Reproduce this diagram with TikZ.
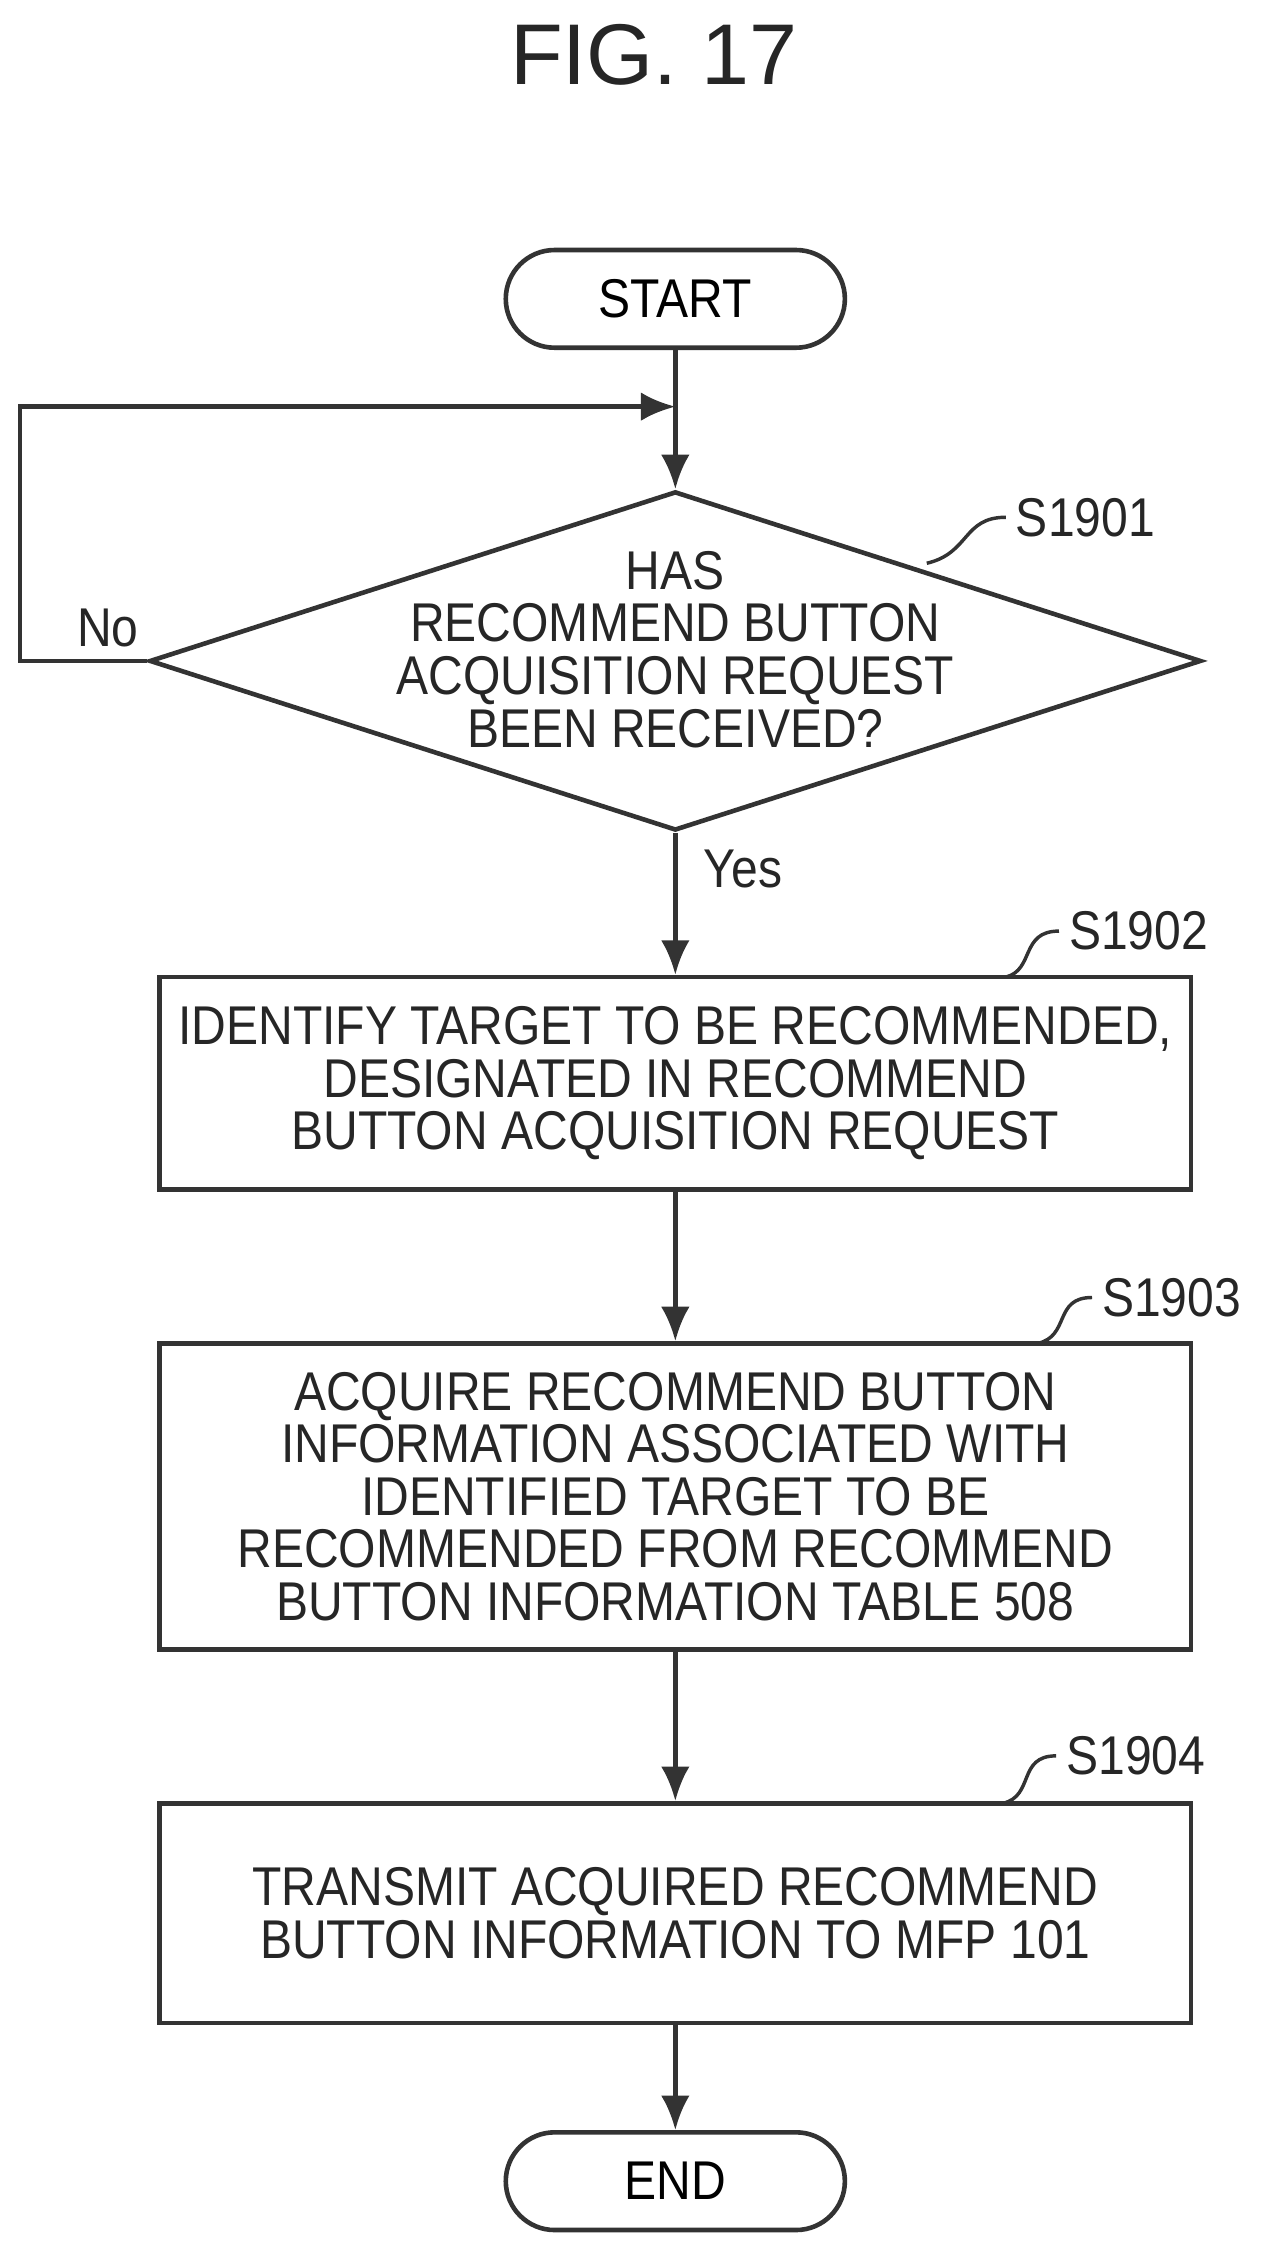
\documentclass[tikz,border=0pt]{standalone}
\usepackage{fontspec}
\setmainfont{Liberation Sans}[FakeStretch=0.88]
\newfontfamily\titlefont{Liberation Sans}
\usetikzlibrary{shapes.geometric,arrows.meta}
\begin{document}
\begin{tikzpicture}[x=0.5pt,y=-0.5pt,
  line/.style={draw=black!80,line width=1.6pt},
  arr/.style={line,-{Latex[length=12pt,width=10pt]}},
  txt/.style={font=\fontsize{19}{18.3}\selectfont,align=center,text=black!85},
  box/.style={line,rectangle,minimum width=359pt,inner sep=0pt},
  term/.style={line,rectangle,rounded corners=17pt,minimum width=118pt,minimum height=34pt,font=\fontsize{19}{18}\selectfont},
  lab/.style={font=\fontsize{19}{18}\selectfont,text=black!85}]
\useasboundingbox (0,0) rectangle (880,1568);
\node[font=\titlefont\fontsize{30}{32}\selectfont,text=black!85] (title) at (455,38) {FIG. 17};
\node[term] (start) at (470,208) {START};
\node[line,diamond,aspect=3.1,minimum width=366pt,minimum height=118pt,inner sep=0pt] (d) at (470,460) {};
\node[txt] (dt) at (470,452) {HAS\\RECOMMEND BUTTON\\ACQUISITION REQUEST\\BEEN RECEIVED?};
\node[box,minimum height=74pt] (b1) at (470,754) {};
\node[txt] at (b1) {IDENTIFY TARGET TO BE RECOMMENDED,\\DESIGNATED IN RECOMMEND\\BUTTON ACQUISITION REQUEST};
\node[box,minimum height=106.5pt] (b2) at (470,1041.5) {};
\node[txt] at (b2) {ACQUIRE RECOMMEND BUTTON\\INFORMATION ASSOCIATED WITH\\IDENTIFIED TARGET TO BE\\RECOMMENDED FROM RECOMMEND\\BUTTON INFORMATION TABLE 508};
\node[box,minimum height=76.5pt] (b3) at (470,1331.5) {};
\node[txt] at (b3) {TRANSMIT ACQUIRED RECOMMEND\\BUTTON INFORMATION TO MFP 101};
\node[term] (end) at (470,1518) {END};
\coordinate (j) at (470,283);
\coordinate (c1) at (14,460);
\coordinate (c2) at (14,283);
\draw[line] (start.south) -- (j);
\draw[arr] (j) -- (d.north);
\draw[arr] (d.west) -- (c1) -- (c2) -- (j);
\draw[arr] (d.south) -- (b1.north);
\draw[arr] (b1.south) -- (b2.north);
\draw[arr] (b2.south) -- (b3.north);
\draw[arr] (b3.south) -- (end.north);
\node[lab] (no) at (75,437) {No};
\node[lab] (yes) at (517,605) {Yes};
\node[lab,anchor=west] (l1) at (700,360) {S1901};
\node[lab,anchor=west] (l2) at (737,648) {S1902};
\node[lab,anchor=west] (l3) at (760,903) {S1903};
\node[lab,anchor=west] (l4) at (735,1222) {S1904};
\draw[line,line width=1.2pt] (l1.west) .. controls (670,360) and (675,385) .. (645,392);
\draw[line,line width=1.2pt] (l2.west) .. controls (710,648) and (720,675) .. (700,680);
\draw[line,line width=1.2pt] (l3.west) .. controls (733,903) and (745,930) .. (722,935);
\draw[line,line width=1.2pt] (l4.west) .. controls (708,1222) and (720,1250) .. (698,1255);
\end{tikzpicture}
\end{document}
